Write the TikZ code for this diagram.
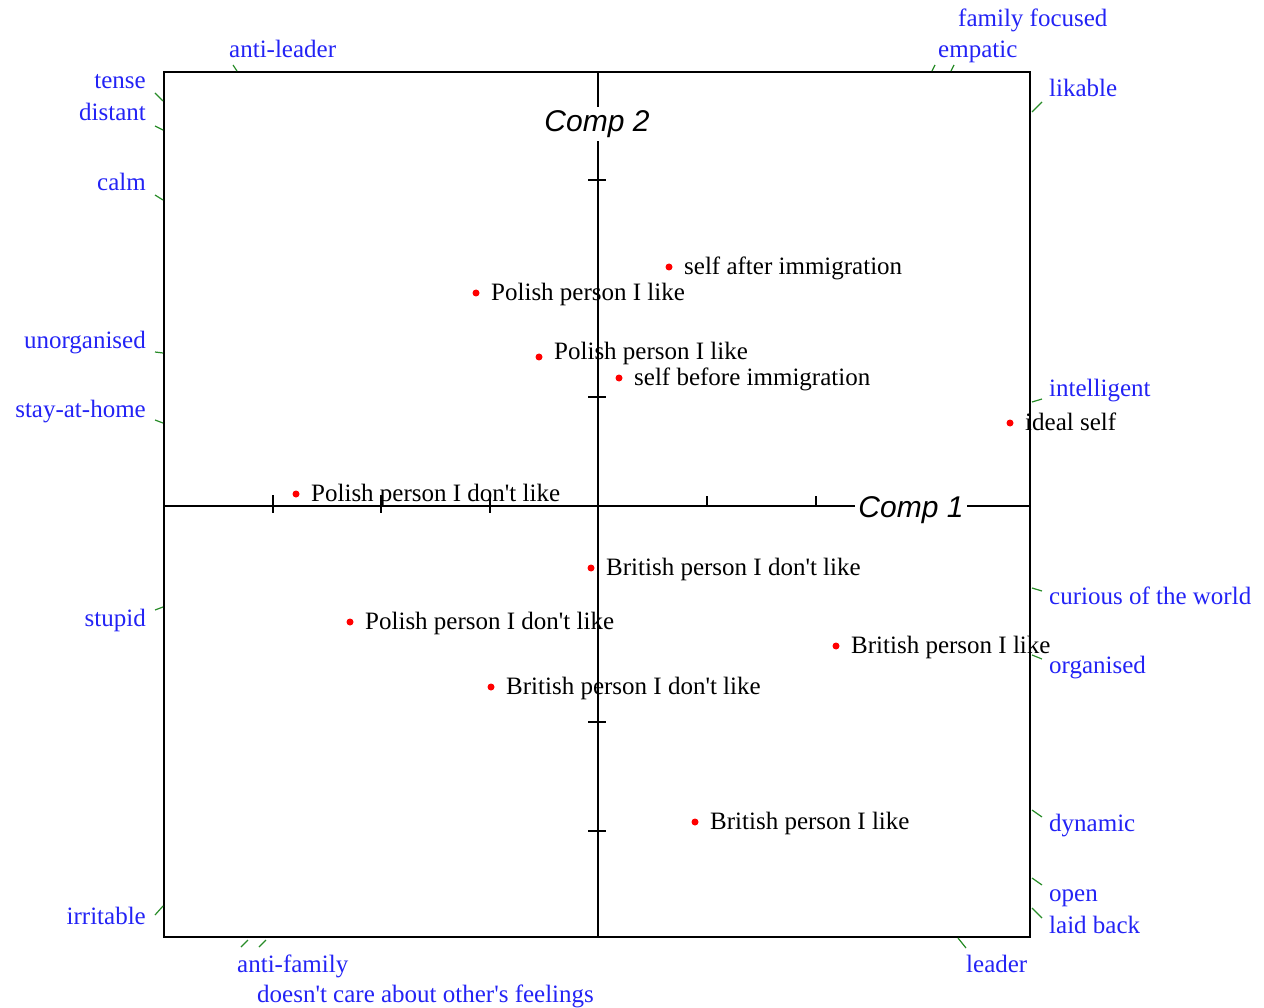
\documentclass[tikz,border=0pt]{standalone}
\usepackage{fontspec}
\setmainfont{Liberation Serif}[Ligatures=TeXOff]
\newfontfamily\compfont{Liberation Sans}
\definecolor{attrblue}{RGB}{35,35,245}
\definecolor{tickgreen}{RGB}{40,140,40}
\newcommand{\labelsize}{\fontsize{25}{29}\selectfont}
\begin{document}
\begin{tikzpicture}[x=1pt,y=-1pt,
  frameline/.style={draw=black,line width=2},
  axisline/.style={draw=black,line width=2},
  axtick/.style={draw=black,line width=1.6},
  gtick/.style={draw=tickgreen,line width=1.2},
  pt/.style={circle,fill=red,inner sep=0,minimum size=7},
  ptlabel/.style={anchor=mid west,inner sep=0,text=black,font=\labelsize},
  attrL/.style={anchor=mid east,inner sep=0,text=attrblue,font=\labelsize},
  attrR/.style={anchor=mid west,inner sep=0,text=attrblue,font=\labelsize},
  comp/.style={fill=white,inner sep=3,font=\compfont\itshape\fontsize{30}{34}\selectfont}]
\useasboundingbox (0,0) rectangle (1264,1008);

% frame and axes
\draw[frameline] (164,72) rectangle (1030,937);
\draw[axisline] (598,72) -- (598,937);
\draw[axisline] (164,506) -- (1030,506);

% ticks on the horizontal axis
\foreach \x in {273,381,490} \draw[axtick] (\x,495) -- (\x,513);
\foreach \x in {707,816} \draw[axtick] (\x,496) -- (\x,506);
% ticks on the vertical axis
\foreach \y in {180,397,722,831} \draw[axtick] (588,\y) -- (606,\y);

% axis titles
\node[comp] (comp2) at (597,124) {Comp 2};
\node[comp] (comp1) at (911,510) {Comp 1};

% points and their labels
\node[pt] (p1) at (669,267) {};
\node[ptlabel] (l1) at (684,272) {self after immigration};
\node[pt] (p2) at (476,293) {};
\node[ptlabel] (l2) at (491,298) {Polish person I like};
\node[pt] (p3) at (539,357) {};
\node[ptlabel] (l3) at (554,357) {Polish person I like};
\node[pt] (p4) at (619,378) {};
\node[ptlabel] (l4) at (634,383) {self before immigration};
\node[pt] (p5) at (1010,423) {};
\node[ptlabel] (l5) at (1025,428) {ideal self};
\node[pt] (p6) at (296,494) {};
\node[ptlabel] (l6) at (311,499) {Polish person I don't like};
\node[pt] (p7) at (591,568) {};
\node[ptlabel] (l7) at (606,573) {British person I don't like};
\node[pt] (p8) at (350,622) {};
\node[ptlabel] (l8) at (365,627) {Polish person I don't like};
\node[pt] (p9) at (836,646) {};
\node[ptlabel] (l9) at (851,651) {British person I like};
\node[pt] (p10) at (491,687) {};
\node[ptlabel] (l10) at (506,692) {British person I don't like};
\node[pt] (p11) at (695,822) {};
\node[ptlabel] (l11) at (710,827) {British person I like};

% attribute labels, left side
\node[attrL] (a1) at (146,86) {tense};
\node[attrL] (a2) at (146,118) {distant};
\node[attrL] (a3) at (146,188) {calm};
\node[attrL] (a4) at (146,346) {unorganised};
\node[attrL] (a5) at (146,415) {stay-at-home};
\node[attrL] (a6) at (146,624) {stupid};
\node[attrL] (a7) at (146,922) {irritable};
% right side
\node[attrR] (b1) at (1049,94) {likable};
\node[attrR] (b2) at (1049,394) {intelligent};
\node[attrR] (b3) at (1049,602) {curious of the world};
\node[attrR] (b4) at (1049,671) {organised};
\node[attrR] (b5) at (1049,829) {dynamic};
\node[attrR] (b6) at (1049,899) {open};
\node[attrR] (b7) at (1049,931) {laid back};
% top
\node[attrR] (c1) at (229,55) {anti-leader};
\node[attrR] (c2) at (938,55) {empatic};
\node[attrR] (c3) at (958,24) {family focused};
% bottom
\node[attrR] (d1) at (237,970) {anti-family};
\node[attrR] (d2) at (257,1000) {doesn't care about other's feelings};
\node[attrR] (d3) at (966,970) {leader};

% attribute direction marks on the frame
\draw[gtick] (155,93) -- (163,101);
\draw[gtick] (155,126) -- (163,130);
\draw[gtick] (155,195) -- (163,200);
\draw[gtick] (155,352) -- (163,353);
\draw[gtick] (155,420) -- (163,423);
\draw[gtick] (155,610) -- (163,607);
\draw[gtick] (155,915) -- (163,906);
\draw[gtick] (1032,112) -- (1042,102);
\draw[gtick] (1032,402) -- (1042,399);
\draw[gtick] (1032,588) -- (1042,591);
\draw[gtick] (1032,655) -- (1042,659);
\draw[gtick] (1032,810) -- (1042,817);
\draw[gtick] (1032,878) -- (1042,885);
\draw[gtick] (1032,908) -- (1042,918);
\draw[gtick] (233,65) -- (237,71);
\draw[gtick] (932,71) -- (935,65);
\draw[gtick] (951,71) -- (954,65);
\draw[gtick] (248,940) -- (241,947);
\draw[gtick] (266,940) -- (259,947);
\draw[gtick] (958,938) -- (966,948);
\end{tikzpicture}
\end{document}
